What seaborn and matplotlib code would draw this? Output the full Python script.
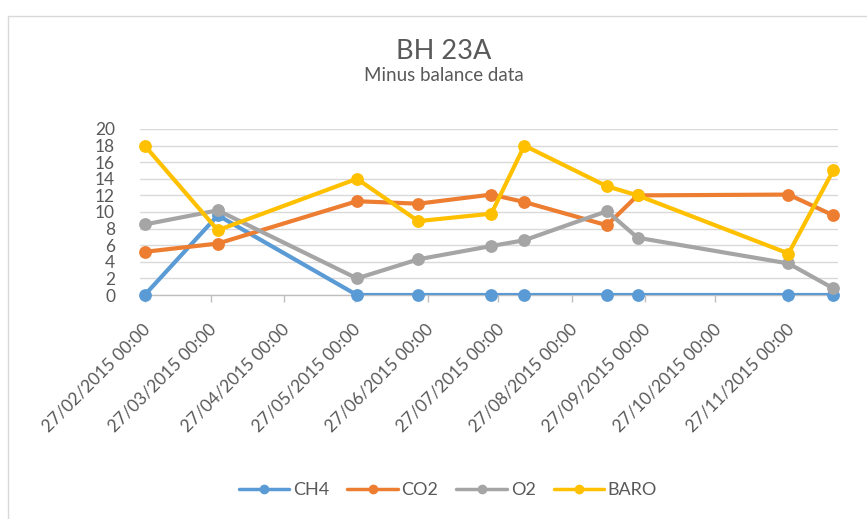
import matplotlib
matplotlib.use("Agg")
import matplotlib.pyplot as plt
import matplotlib.dates as mdates
from matplotlib.lines import Line2D
from matplotlib.transforms import ScaledTranslation
import pandas as pd
import seaborn as sns

# Sampling dates and gas readings for borehole BH 23A
sample_dates = ["2015-02-27", "2015-03-30", "2015-05-28", "2015-06-23", "2015-07-24",
                "2015-08-07", "2015-09-11", "2015-09-24", "2015-11-27", "2015-12-16"]
ch4 = [0, 9.6, 0, 0, 0, 0, 0, 0, 0, 0]
co2 = [5.2, 6.2, 11.3, 11.0, 12.1, 11.2, 8.4, 12.0, 12.1, 9.6]
o2 = [8.5, 10.2, 2.0, 4.3, 5.9, 6.6, 10.1, 6.9, 3.8, 0.8]
baro = [18, 7.8, 14, 8.9, 9.8, 18, 13.1, 12.0, 5.0, 15]

series_names = ["CH4", "CO2", "O2", "BARO"]
series_colors = ["#5B9BD5", "#ED7D31", "#A5A5A5", "#FFC000"]

tick_dates = ["2015-02-27", "2015-03-27", "2015-04-27", "2015-05-27", "2015-06-27",
              "2015-07-27", "2015-08-27", "2015-09-27", "2015-10-27", "2015-11-27"]
y_ticks = [0, 2, 4, 6, 8, 10, 12, 14, 16, 18, 20]

TEXT = "#595959"
GRID = "#d9d9d9"

sns.set_theme(style="white")
plt.rcParams["font.family"] = ["Lato", "DejaVu Sans"]

W, H = 867, 519
fig = plt.figure(figsize=(W / 100, H / 100), dpi=100)
ax = fig.add_axes([140 / W, 1 - 295 / H, (838 - 140) / W, (295 - 129) / H])

df = pd.DataFrame({"date": pd.to_datetime(sample_dates),
                   "CH4": ch4, "CO2": co2, "O2": o2, "BARO": baro})
long_df = df.melt(id_vars="date", var_name="gas", value_name="value")

for i, (name, color) in enumerate(zip(series_names, series_colors)):
    sub = long_df[long_df["gas"] == name]
    sns.lineplot(data=sub, x="date", y="value", color=color, lw=3.0, ax=ax,
                 legend=False, zorder=3 + 2 * i,
                 solid_joinstyle="round", solid_capstyle="round")
    sns.scatterplot(data=sub, x="date", y="value", color=color, s=85,
                    linewidth=0, ax=ax, legend=False, clip_on=False,
                    zorder=4 + 2 * i)

ax.set_ylim(0, 20)
ax.set_xlim(pd.Timestamp("2015-02-25"), pd.Timestamp("2015-12-18"))
ax.set_xlabel("")
ax.set_ylabel("")

ax.set_yticks(y_ticks)
ax.yaxis.grid(True, color=GRID, lw=1)
ax.xaxis.grid(False)
ax.set_axisbelow(True)
for side in ("top", "right", "left"):
    ax.spines[side].set_visible(False)
ax.spines["bottom"].set_color("#bfbfbf")
ax.spines["bottom"].set_linewidth(1)

ax.set_xticks(pd.to_datetime(tick_dates))
ax.xaxis.set_major_formatter(mdates.DateFormatter("%d/%m/%Y %H:%M"))
ax.tick_params(axis="x", bottom=True, length=5, width=1, color="#bfbfbf",
               direction="out", pad=18, labelsize=12.5, labelcolor=TEXT)
ax.tick_params(axis="y", left=False, pad=12, labelsize=12.5, labelcolor=TEXT)

shift = ScaledTranslation(3 / 100, 0, fig.dpi_scale_trans)
for lbl in ax.get_xticklabels():
    lbl.set_rotation(45)
    lbl.set_ha("right")
    lbl.set_va("center")
    lbl.set_rotation_mode("anchor")
    lbl.set_transform(lbl.get_transform() + shift)

# Titles
fig.text(444 / W, 1 - 59 / H, "BH 23A", ha="center", va="baseline",
         fontsize=19.5, color=TEXT)
fig.text(444 / W, 1 - 81 / H, "Minus balance data", ha="center", va="baseline",
         fontsize=13.5, color=TEXT)

# Legend
handles = [Line2D([], [], color=c, lw=2.5, marker="o", markersize=7,
                  markeredgewidth=0) for c in series_colors]
fig.legend(handles, series_names, loc="center",
           bbox_to_anchor=(448 / W, 1 - 490 / H), ncol=4, frameon=False,
           fontsize=13, handlelength=2.8, handletextpad=0.2,
           columnspacing=1.0, labelcolor=TEXT)

# Chart area border
fig.add_artist(Line2D([8 / W, 1], [1 - 16 / H, 1 - 16 / H], color=GRID, lw=1,
                      transform=fig.transFigure))
fig.add_artist(Line2D([8 / W, 8 / W], [0, 1 - 16 / H], color=GRID, lw=1,
                      transform=fig.transFigure))

fig.savefig("out.png", dpi=100, facecolor="white")
